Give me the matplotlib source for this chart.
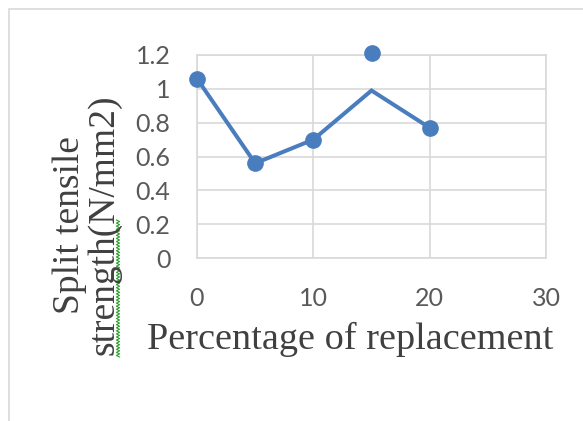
import numpy as np
import matplotlib
matplotlib.use("Agg")
import matplotlib.pyplot as plt
from matplotlib.patches import Rectangle
from matplotlib.lines import Line2D

# Data
replacement = [0, 5, 10, 15, 20]
strength_line = [1.06, 0.56, 0.70, 0.99, 0.77]
strength_points = [1.06, 0.56, 0.70, 1.21, 0.77]
x_ticks = [0, 10, 20, 30]
y_ticks = [0, 0.2, 0.4, 0.6, 0.8, 1, 1.2]
y_tick_labels = ["0", "0.2", "0.4", "0.6", "0.8", "1", "1.2"]

W, H = 583, 421
fig = plt.figure(figsize=(W / 100, H / 100), dpi=100)
fig.patch.set_facecolor("white")

# Outer chart frame
fig.patches.append(Rectangle((9 / W, -0.05), 1.2, 1 - 9 / H + 0.05,
                             transform=fig.transFigure, fill=False,
                             edgecolor="#d9d9d9", linewidth=1.2))

ax = fig.add_axes([197 / W, 1 - 258 / H, (546 - 197) / W, (258 - 55) / H])
blue = "#4a7dbd"
grid = "#d9d9d9"

ax.plot(replacement, strength_line, color=blue, linewidth=2.9,
        solid_joinstyle="miter", zorder=3)
ax.plot(replacement, strength_points, linestyle="none", marker="o",
        markersize=11, color=blue, zorder=4)

ax.set_xlim(0, 30)
ax.set_ylim(0, 1.2)
ax.set_xticks(x_ticks)
ax.set_yticks(y_ticks)
ax.set_yticklabels(y_tick_labels)
ax.grid(True, color=grid, linewidth=1.2)
ax.set_axisbelow(True)
for s in ax.spines.values():
    s.set_color(grid)
    s.set_linewidth(1.2)
ax.tick_params(length=0, labelsize=18, labelcolor="#595959")
ax.tick_params(axis="x", pad=21)
ax.tick_params(axis="y", pad=19)
for lab in ax.get_xticklabels() + ax.get_yticklabels():
    lab.set_fontfamily("Lato")
for ln in ax.lines:
    ln.set_clip_on(False)

serif = "Liberation Serif"
fig.text(350 / W, 1 - 339 / H, "Percentage of replacement",
         ha="center", va="center", fontsize=27.5, family=serif, color="#404040")
fig.text(87 / W, 1 - 225 / H, "Split tensile\nstrength(N/mm2)",
         ha="center", va="center", rotation=90, multialignment="center",
         fontsize=27, family=serif, color="#404040", linespacing=1.0)

# Green wavy proofing underline beside the axis title
yy = np.linspace(1 - 220 / H, 1 - 357 / H, 90)
xx = 118 / W + (1.6 / W) * np.where(np.arange(90) % 2 == 0, -1, 1)
fig.add_artist(Line2D(xx, yy, transform=fig.transFigure, color="#2e9e2e",
                      linewidth=0.8))

fig.savefig("out.png", dpi=100)
